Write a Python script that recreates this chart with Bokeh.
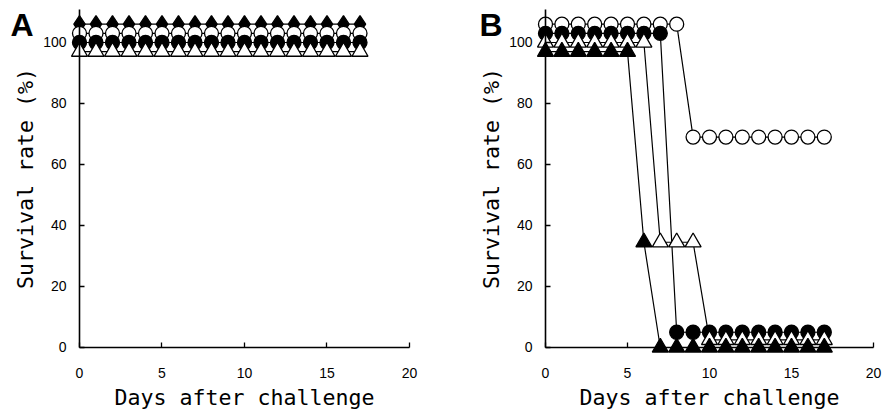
from bokeh.plotting import figure
from bokeh.layouts import row
from bokeh.models import Range1d, Label, FixedTicker, LinearAxis
from bokeh.embed import file_html
from bokeh.resources import INLINE

days = [0, 1, 2, 3, 4, 5, 6, 7, 8, 9, 10, 11, 12, 13, 14, 15, 16, 17]

# Panel A (all groups survive; plotted with small vertical offsets as in the figure)
a_filled_diamond = [106, 106, 106, 106, 106, 106, 106, 106, 106, 106, 106, 106, 106, 106, 106, 106, 106, 106]
a_open_circle = [103, 103, 103, 103, 103, 103, 103, 103, 103, 103, 103, 103, 103, 103, 103, 103, 103, 103]
a_filled_circle = [100, 100, 100, 100, 100, 100, 100, 100, 100, 100, 100, 100, 100, 100, 100, 100, 100, 100]
a_open_triangle = [97, 97, 97, 97, 97, 97, 97, 97, 97, 97, 97, 97, 97, 97, 97, 97, 97, 97]

# Panel B
b_open_circle = [106, 106, 106, 106, 106, 106, 106, 106, 106, 69, 69, 69, 69, 69, 69, 69, 69, 69]
b_filled_circle = [103, 103, 103, 103, 103, 103, 103, 103, 5, 5, 5, 5, 5, 5, 5, 5, 5, 5]
b_open_triangle = [100, 100, 100, 100, 100, 100, 100, 34.5, 34.5, 34.5, 2.5, 2.5, 2.5, 2.5, 2.5, 2.5, 2.5, 2.5]
b_filled_triangle = [97, 97, 97, 97, 97, 97, 34.5, 0, 0, 0, 0, 0, 0, 0, 0, 0, 0, 0]

x_ticks = [0, 5, 10, 15, 20]
y_ticks = [0, 20, 40, 60, 80, 100]
x_axis_span = (0, 20)
y_axis_span = (0, 110.8)

MONO = "DejaVu Sans Mono"
SANS = "Liberation Sans"


def make_fig(x_start, x_end, letter, letter_x):
    p = figure(width=441, height=410, output_backend="svg", toolbar_location=None,
               x_range=Range1d(x_start, x_end), y_range=Range1d(-20.66, 113.77),
               x_axis_location=None, y_axis_location=None,
               min_border_left=0, min_border_right=0, min_border_top=0, min_border_bottom=0)
    p.outline_line_color = None
    p.grid.visible = False
    xax = LinearAxis(fixed_location=0, bounds=x_axis_span, ticker=FixedTicker(ticks=x_ticks),
                     axis_label="Days after challenge")
    yax = LinearAxis(fixed_location=0, bounds=y_axis_span, ticker=FixedTicker(ticks=y_ticks),
                     axis_label="Survival rate (%)")
    for ax in (xax, yax):
        ax.axis_line_width = 1.6
        ax.axis_line_color = "black"
        ax.major_tick_in = 5
        ax.major_tick_out = 0
        ax.major_tick_line_width = 1.3
        ax.minor_tick_line_color = None
        ax.major_label_text_font = SANS
        ax.major_label_text_font_size = "14px"
        ax.major_label_text_color = "black"
        ax.axis_label_text_font = MONO
        ax.axis_label_text_font_size = "21.6px"
        ax.axis_label_text_font_style = "normal"
        ax.axis_label_text_color = "black"
    xax.major_label_standoff = 21
    yax.major_label_standoff = 13
    xax.axis_label_standoff = 3
    yax.axis_label_standoff = 2
    p.add_layout(xax, "below")
    p.add_layout(yax, "left")
    p.add_layout(Label(x=letter_x, y=404, x_units="screen", y_units="screen", text=letter,
                       text_font=SANS, text_font_style="bold", text_font_size="32px",
                       text_baseline="top", text_align="left", text_color="black"))
    return p


def series(p, ys, marker, fill, size):
    p.line(days, ys, line_color="black", line_width=1.2)
    p.scatter(days, ys, marker=marker, size=size, fill_color=fill, line_color="black", line_width=1.3)


pa = make_fig(-4.788, 21.94, "A", 10)
series(pa, a_filled_diamond, "diamond", "black", 17)
series(pa, a_open_circle, "circle", "white", 14)
series(pa, a_filled_circle, "circle", "black", 14)
series(pa, a_open_triangle, "triangle", "white", 16)

pb = make_fig(-6.341, 20.549, "B", 38)
series(pb, b_open_circle, "circle", "white", 14)
series(pb, b_filled_circle, "circle", "black", 14)
series(pb, b_open_triangle, "triangle", "white", 16)
series(pb, b_filled_triangle, "triangle", "black", 16)

layout = row(pa, pb)
open("out.html", "w").write(file_html(layout, INLINE))
